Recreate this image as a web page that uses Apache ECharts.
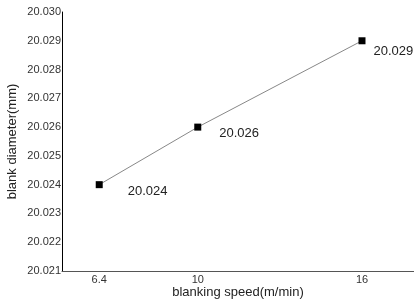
<!DOCTYPE html>
<html><head><meta charset="utf-8">
<script src="https://cdn.jsdelivr.net/npm/echarts@6/dist/echarts.min.js"></script>
<style>html,body{margin:0;padding:0;background:#fff}#c{width:414px;height:301px}</style>
</head><body><div id="c"></div>
<script>
const speeds = [6.4, 10, 16];
const diameters = [20.024, 20.026, 20.029];
const xTicks = [6.4, 10, 16];
const yTickMin = 20.021, yTickMax = 20.030;

// label placement (style only)
const labelOffsets = [[20, 7], [13, 6], [3, 11]];

const chart = echarts.init(document.getElementById('c'), null, {renderer: 'canvas'});
chart.setOption({
  animation: false,
  backgroundColor: '#fff',
  grid: {left: 62, right: 0, top: 12, bottom: 30, outerBoundsMode: 'none', containLabel: false},
  xAxis: {
    type: 'value', min: 5.04, max: 17.9,
    name: 'blanking speed(m/min)', nameLocation: 'middle', nameGap: 15, nameMoveOverlap: false,
    nameTextStyle: {fontFamily: 'Liberation Sans', fontSize: 13, color: '#222'},
    axisLine: {show: true, lineStyle: {color: '#555', width: 1}},
    axisTick: {show: false},
    splitLine: {show: false},
    axisLabel: {customValues: xTicks, fontFamily: 'Liberation Sans', fontSize: 11, color: '#333', margin: 3,
      formatter: v => String(v)}
  },
  yAxis: {
    type: 'value', min: yTickMin, max: yTickMax, interval: 0.001,
    name: 'blank diameter(mm)', nameLocation: 'middle', nameGap: 43, nameRotate: 90, nameMoveOverlap: false,
    nameTextStyle: {fontFamily: 'Liberation Sans', fontSize: 13, color: '#222'},
    axisLine: {show: true, lineStyle: {color: '#000', width: 1}},
    axisTick: {show: false},
    splitLine: {show: false},
    axisLabel: {fontFamily: 'Liberation Sans', fontSize: 11, color: '#333', margin: 1,
      formatter: v => v.toFixed(3)}
  },
  series: [{
    type: 'line',
    data: speeds.map((s, i) => ({value: [s, diameters[i]], label: {offset: labelOffsets[i]}})),
    symbol: 'rect', symbolSize: 7,
    itemStyle: {color: '#000'},
    lineStyle: {color: '#888', width: 1},
    label: {show: true, position: 'right', fontFamily: 'Liberation Sans', fontSize: 13, color: '#222',
      formatter: p => p.value[1].toFixed(3)}
  }]
});
</script></body></html>
